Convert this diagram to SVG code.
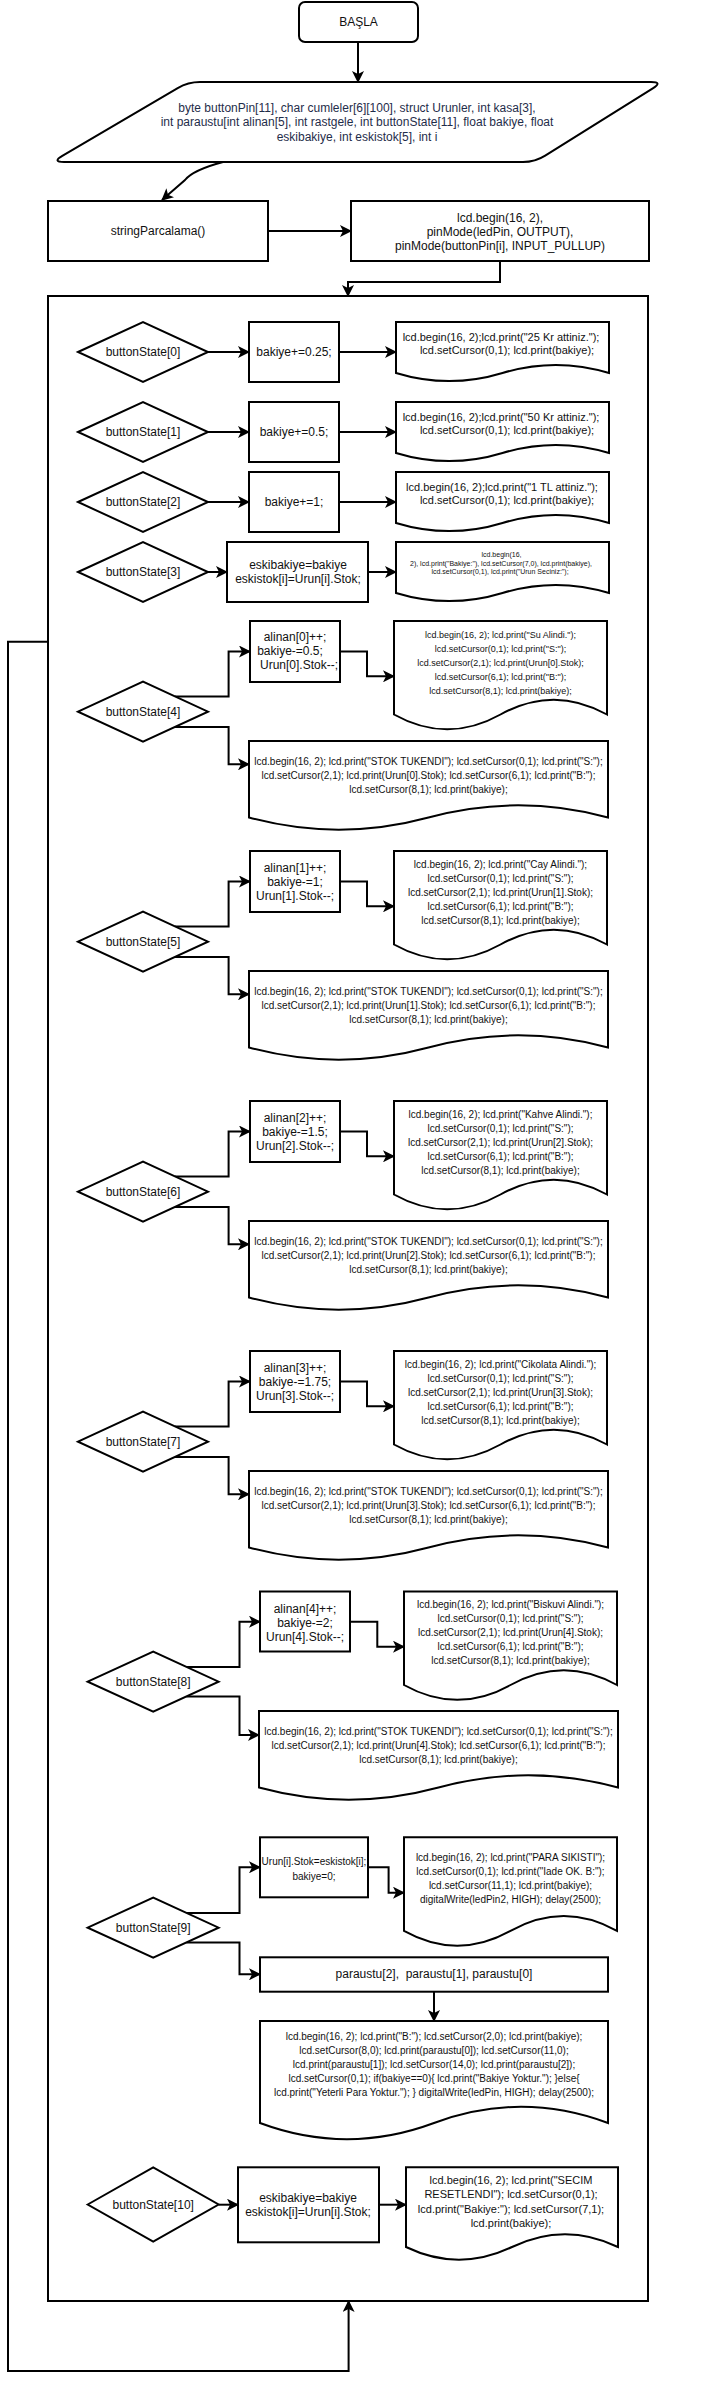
<svg xmlns="http://www.w3.org/2000/svg" width="713" height="2397" viewBox="0 0 713 2397">
<style>
.s{fill:#fff;stroke:#000;stroke-width:2}
.b{fill:none;stroke:#000;stroke-width:2}
.c{fill:none;stroke:#000;stroke-width:2;marker-end:url(#ah)}
.cn{fill:none;stroke:#000;stroke-width:2}
text{font-family:"Liberation Sans",Arial,Helvetica,sans-serif;text-anchor:middle;fill:#111}
.f12{font-size:12px}.f11{font-size:11px}.f10{font-size:10px}.f9{font-size:9px}.f7{font-size:7px}
.nv{fill:#1f2d4a}
</style>
<defs>
<marker id="ah" markerWidth="12" markerHeight="12" refX="11" refY="6" orient="auto" markerUnits="userSpaceOnUse" viewBox="0 0 12 12"><path d="M0,0 L12,6 L0,12 L3,6 Z" fill="#000"/></marker>
</defs>
<rect width="713" height="2397" fill="#fff"/>

<g id="container"><rect class="b" x="48" y="296" width="600" height="2005"/></g>

<g id="connectors">
<path class="c" d="M358,42 V82"/>
<path class="c" d="M223,162 Q193,170 185,180 L162,200"/>
<path class="c" d="M268,231 H351"/>
<path class="c" d="M500,261 V282 H348 V296"/>
<path class="c" d="M48,641.7 H8 V2371 H348.6 V2301"/>
<!-- rows 0-3 -->
<path class="c" d="M208,352 H249"/><path class="c" d="M339,352 H396"/>
<path class="c" d="M208,432 H249"/><path class="c" d="M339,432 H396"/>
<path class="c" d="M208,502 H249"/><path class="c" d="M339,502 H396"/>
<path class="c" d="M208,572 H227"/><path class="c" d="M368,572 H396"/>
<!-- row 4 -->
<path class="c" d="M175,696.5 H228.6 V651.5 H250"/>
<path class="c" d="M175,726.9 H228.6 V764.3 H249"/>
<path class="c" d="M340,651.5 H367 V676.3 H394"/>
<!-- row 5 -->
<path class="c" d="M175,926.5 H228.6 V881.5 H250"/>
<path class="c" d="M175,956.9 H228.6 V994.3 H249"/>
<path class="c" d="M340,881.5 H367 V906.3 H394"/>
<!-- row 6 -->
<path class="c" d="M175,1176.5 H228.6 V1131.5 H250"/>
<path class="c" d="M175,1206.9 H228.6 V1244.3 H249"/>
<path class="c" d="M340,1131.5 H367 V1156.3 H394"/>
<!-- row 7 -->
<path class="c" d="M175,1426.5 H228.6 V1381.5 H250"/>
<path class="c" d="M175,1456.9 H228.6 V1494.3 H249"/>
<path class="c" d="M340,1381.5 H367 V1406.3 H394"/>
<!-- row 8 -->
<path class="c" d="M186.4,1666.9 H239.5 V1621.7 H260"/>
<path class="c" d="M186.4,1696.5 H239.5 V1735 H259"/>
<path class="c" d="M350,1621.7 H377.3 V1646.7 H404"/>
<!-- row 9 -->
<path class="c" d="M186.4,1912.9 H239.5 V1867.3 H260"/>
<path class="c" d="M186.4,1942.5 H239.5 V1974.3 H260"/>
<path class="c" d="M368,1867.3 H388.6 V1892.7 H404"/>
<path class="c" d="M434,1991.7 V2021"/>
<!-- row 10 -->
<path class="c" d="M218.6,2204.7 H238"/>
<path class="c" d="M379,2204.7 H406"/>
</g>

<g id="start"><rect class="s" x="299" y="2" width="119" height="40" rx="6"/><text class="f12" x="358.5" y="26">BAŞLA</text></g>

<g id="decl">
<path class="s" d="M200,82 L651,82 Q663,82 652.8,88.4 L545.2,155.6 Q535,162 523,162 L64,162 Q52,162 62.3,155.9 L177.7,88.1 Q188,82 200,82 Z"/>
<text class="f12 nv" x="357" y="112">byte buttonPin[11], char cumleler[6][100], struct Urunler, int kasa[3],</text>
<text class="f12 nv" x="357" y="126.3">int paraustu[int alinan[5], int rastgele, int buttonState[11], float bakiye, float</text>
<text class="f12 nv" x="357" y="140.6">eskibakiye, int eskistok[5], int i</text>
</g>

<g id="stringParcalama"><rect class="s" x="48" y="201" width="220" height="60"/><text class="f12" x="158" y="235">stringParcalama()</text></g>

<g id="setup"><rect class="s" x="351" y="201" width="298" height="60"/>
<text class="f12" x="500" y="222">lcd.begin(16, 2),</text>
<text class="f12" x="500" y="236">pinMode(ledPin, OUTPUT),</text>
<text class="f12" x="500" y="250">pinMode(buttonPin[i], INPUT_PULLUP)</text></g>

<!-- row 0 -->
<g id="d0"><polygon class="s" points="78,352 143,322 208,352 143,382"/><text class="f12" x="143" y="356">buttonState[0]</text></g>
<g id="p0"><rect class="s" x="249" y="322" width="90" height="60"/><text class="f12" x="294" y="356">bakiye+=0.25;</text></g>
<g id="o0"><path class="s" d="M396,322 H609 V373 Q555.75,356.8 502.5,373 Q449.25,389.2 396,373 Z"/>
<text class="f11" x="501" y="340.5">lcd.begin(16, 2);lcd.print("25 Kr attiniz.");</text>
<text class="f11" x="507" y="354">lcd.setCursor(0,1); lcd.print(bakiye);</text></g>

<!-- row 1 -->
<g id="d1"><polygon class="s" points="78,432 143,402 208,432 143,462"/><text class="f12" x="143" y="436">buttonState[1]</text></g>
<g id="p1"><rect class="s" x="249" y="402" width="90" height="60"/><text class="f12" x="294" y="436">bakiye+=0.5;</text></g>
<g id="o1"><path class="s" d="M396,402 H609 V453 Q555.75,436.8 502.5,453 Q449.25,469.2 396,453 Z"/>
<text class="f11" x="501" y="420.5">lcd.begin(16, 2);lcd.print("50 Kr attiniz.");</text>
<text class="f11" x="507" y="434">lcd.setCursor(0,1); lcd.print(bakiye);</text></g>

<!-- row 2 -->
<g id="d2"><polygon class="s" points="78,502 143,472 208,502 143,532"/><text class="f12" x="143" y="506">buttonState[2]</text></g>
<g id="p2"><rect class="s" x="249" y="472" width="90" height="60"/><text class="f12" x="294" y="506">bakiye+=1;</text></g>
<g id="o2"><path class="s" d="M396,472 H609 V523 Q555.75,506.8 502.5,523 Q449.25,539.2 396,523 Z"/>
<text class="f11" x="502" y="490.5">lcd.begin(16, 2);lcd.print("1 TL attiniz.");</text>
<text class="f11" x="507" y="504">lcd.setCursor(0,1); lcd.print(bakiye);</text></g>

<!-- row 3 -->
<g id="d3"><polygon class="s" points="78,572 143,542 208,572 143,602"/><text class="f12" x="143" y="576">buttonState[3]</text></g>
<g id="p3"><rect class="s" x="227" y="542" width="141" height="60"/>
<text class="f12" x="298" y="569">eskibakiye=bakiye</text>
<text class="f12" x="298" y="583">eskistok[i]=Urun[i].Stok;</text></g>
<g id="o3"><path class="s" d="M396,542 H609 V593 Q555.75,576.8 502.5,593 Q449.25,609.2 396,593 Z"/>
<text class="f7" x="501.5" y="557">lcd.begin(16,</text>
<text class="f7" x="501" y="565.5">2), lcd.print("Bakiye:"), lcd.setCursor(7,0), lcd.print(bakiye),</text>
<text class="f7" x="500" y="574">lcd.setCursor(0,1), lcd.print("Urun Seciniz:");</text></g>

<!-- row 4 -->
<g id="d4"><polygon class="s" points="78,711.7 143,681.7 208,711.7 143,741.7"/><text class="f12" x="143" y="715.7">buttonState[4]</text></g>
<g id="p4"><rect class="s" x="250" y="621" width="90" height="61"/>
<text class="f12" x="295" y="641">alinan[0]++;</text>
<text class="f12" x="290" y="655">bakiye-=0.5;</text>
<text class="f12" x="299" y="669">Urun[0].Stok--;</text></g>
<g id="o4"><path class="s" d="M394,621 H607 V714.5 Q553.75,684.8 500.5,714.5 Q447.25,744.2 394,714.5 Z"/>
<text class="f9" x="500.5" y="637.5">lcd.begin(16, 2); lcd.print("Su Alindi.");</text>
<text class="f9" x="500.5" y="651.5">lcd.setCursor(0,1); lcd.print("S:");</text>
<text class="f9" x="500.5" y="665.5">lcd.setCursor(2,1); lcd.print(Urun[0].Stok);</text>
<text class="f9" x="500.5" y="679.5">lcd.setCursor(6,1); lcd.print("B:");</text>
<text class="f9" x="500.5" y="693.5">lcd.setCursor(8,1); lcd.print(bakiye);</text></g>
<g id="e4"><path class="s" d="M249,741 H608 V817.5 Q518.25,793.2 428.5,817.5 Q338.75,841.8 249,817.5 Z"/>
<text class="f10" x="428.5" y="764.5">lcd.begin(16, 2); lcd.print("STOK TUKENDI"); lcd.setCursor(0,1); lcd.print("S:");</text>
<text class="f10" x="428.5" y="778.5">lcd.setCursor(2,1); lcd.print(Urun[0].Stok); lcd.setCursor(6,1); lcd.print("B:");</text>
<text class="f10" x="428.5" y="792.5">lcd.setCursor(8,1); lcd.print(bakiye);</text></g>

<!-- row 5 -->
<g id="d5"><polygon class="s" points="78,941.7 143,911.7 208,941.7 143,971.7"/><text class="f12" x="143" y="945.7">buttonState[5]</text></g>
<g id="p5"><rect class="s" x="250" y="851" width="90" height="61"/>
<text class="f12" x="295" y="872">alinan[1]++;</text>
<text class="f12" x="295" y="886">bakiye-=1;</text>
<text class="f12" x="295" y="900">Urun[1].Stok--;</text></g>
<g id="o5"><path class="s" d="M394,851 H607 V944.5 Q553.75,914.8 500.5,944.5 Q447.25,974.2 394,944.5 Z"/>
<text class="f10" x="500.5" y="867.5">lcd.begin(16, 2); lcd.print("Cay Alindi.");</text>
<text class="f10" x="500.5" y="881.5">lcd.setCursor(0,1); lcd.print("S:");</text>
<text class="f10" x="500.5" y="895.5">lcd.setCursor(2,1); lcd.print(Urun[1].Stok);</text>
<text class="f10" x="500.5" y="909.5">lcd.setCursor(6,1); lcd.print("B:");</text>
<text class="f10" x="500.5" y="923.5">lcd.setCursor(8,1); lcd.print(bakiye);</text></g>
<g id="e5"><path class="s" d="M249,971 H608 V1047.5 Q518.25,1023.2 428.5,1047.5 Q338.75,1071.8 249,1047.5 Z"/>
<text class="f10" x="428.5" y="994.5">lcd.begin(16, 2); lcd.print("STOK TUKENDI"); lcd.setCursor(0,1); lcd.print("S:");</text>
<text class="f10" x="428.5" y="1008.5">lcd.setCursor(2,1); lcd.print(Urun[1].Stok); lcd.setCursor(6,1); lcd.print("B:");</text>
<text class="f10" x="428.5" y="1022.5">lcd.setCursor(8,1); lcd.print(bakiye);</text></g>

<!-- row 6 -->
<g id="d6"><polygon class="s" points="78,1191.7 143,1161.7 208,1191.7 143,1221.7"/><text class="f12" x="143" y="1195.7">buttonState[6]</text></g>
<g id="p6"><rect class="s" x="250" y="1101" width="90" height="61"/>
<text class="f12" x="295" y="1122">alinan[2]++;</text>
<text class="f12" x="295" y="1136">bakiye-=1.5;</text>
<text class="f12" x="295" y="1150">Urun[2].Stok--;</text></g>
<g id="o6"><path class="s" d="M394,1101 H607 V1194.5 Q553.75,1164.8 500.5,1194.5 Q447.25,1224.2 394,1194.5 Z"/>
<text class="f10" x="500.5" y="1117.5">lcd.begin(16, 2); lcd.print("Kahve Alindi.");</text>
<text class="f10" x="500.5" y="1131.5">lcd.setCursor(0,1); lcd.print("S:");</text>
<text class="f10" x="500.5" y="1145.5">lcd.setCursor(2,1); lcd.print(Urun[2].Stok);</text>
<text class="f10" x="500.5" y="1159.5">lcd.setCursor(6,1); lcd.print("B:");</text>
<text class="f10" x="500.5" y="1173.5">lcd.setCursor(8,1); lcd.print(bakiye);</text></g>
<g id="e6"><path class="s" d="M249,1221 H608 V1297.5 Q518.25,1273.2 428.5,1297.5 Q338.75,1321.8 249,1297.5 Z"/>
<text class="f10" x="428.5" y="1244.5">lcd.begin(16, 2); lcd.print("STOK TUKENDI"); lcd.setCursor(0,1); lcd.print("S:");</text>
<text class="f10" x="428.5" y="1258.5">lcd.setCursor(2,1); lcd.print(Urun[2].Stok); lcd.setCursor(6,1); lcd.print("B:");</text>
<text class="f10" x="428.5" y="1272.5">lcd.setCursor(8,1); lcd.print(bakiye);</text></g>

<!-- row 7 -->
<g id="d7"><polygon class="s" points="78,1441.7 143,1411.7 208,1441.7 143,1471.7"/><text class="f12" x="143" y="1445.7">buttonState[7]</text></g>
<g id="p7"><rect class="s" x="250" y="1351" width="90" height="61"/>
<text class="f12" x="295" y="1372">alinan[3]++;</text>
<text class="f12" x="295" y="1386">bakiye-=1.75;</text>
<text class="f12" x="295" y="1400">Urun[3].Stok--;</text></g>
<g id="o7"><path class="s" d="M394,1351 H607 V1444.5 Q553.75,1414.8 500.5,1444.5 Q447.25,1474.2 394,1444.5 Z"/>
<text class="f10" x="500.5" y="1367.5">lcd.begin(16, 2); lcd.print("Cikolata Alindi.");</text>
<text class="f10" x="500.5" y="1381.5">lcd.setCursor(0,1); lcd.print("S:");</text>
<text class="f10" x="500.5" y="1395.5">lcd.setCursor(2,1); lcd.print(Urun[3].Stok);</text>
<text class="f10" x="500.5" y="1409.5">lcd.setCursor(6,1); lcd.print("B:");</text>
<text class="f10" x="500.5" y="1423.5">lcd.setCursor(8,1); lcd.print(bakiye);</text></g>
<g id="e7"><path class="s" d="M249,1471 H608 V1547.5 Q518.25,1523.2 428.5,1547.5 Q338.75,1571.8 249,1547.5 Z"/>
<text class="f10" x="428.5" y="1494.5">lcd.begin(16, 2); lcd.print("STOK TUKENDI"); lcd.setCursor(0,1); lcd.print("S:");</text>
<text class="f10" x="428.5" y="1508.5">lcd.setCursor(2,1); lcd.print(Urun[3].Stok); lcd.setCursor(6,1); lcd.print("B:");</text>
<text class="f10" x="428.5" y="1522.5">lcd.setCursor(8,1); lcd.print(bakiye);</text></g>

<!-- row 8 -->
<g id="d8"><polygon class="s" points="87.7,1681.7 153.2,1651.7 218.6,1681.7 153.2,1711.7"/><text class="f12" x="153.2" y="1685.7">buttonState[8]</text></g>
<g id="p8"><rect class="s" x="260" y="1591.5" width="90" height="60"/>
<text class="f12" x="305" y="1612.5">alinan[4]++;</text>
<text class="f12" x="305" y="1626.5">bakiye-=2;</text>
<text class="f12" x="305" y="1640.5">Urun[4].Stok--;</text></g>
<g id="o8"><path class="s" d="M404,1591.5 H617 V1685 Q563.75,1655.3 510.5,1685 Q457.25,1714.7 404,1685 Z"/>
<text class="f10" x="510.5" y="1608">lcd.begin(16, 2); lcd.print("Biskuvi Alindi.");</text>
<text class="f10" x="510.5" y="1622">lcd.setCursor(0,1); lcd.print("S:");</text>
<text class="f10" x="510.5" y="1636">lcd.setCursor(2,1); lcd.print(Urun[4].Stok);</text>
<text class="f10" x="510.5" y="1650">lcd.setCursor(6,1); lcd.print("B:");</text>
<text class="f10" x="510.5" y="1664">lcd.setCursor(8,1); lcd.print(bakiye);</text></g>
<g id="e8"><path class="s" d="M259,1711 H618 V1787.5 Q528.25,1763.2 438.5,1787.5 Q348.75,1811.8 259,1787.5 Z"/>
<text class="f10" x="438.5" y="1734.5">lcd.begin(16, 2); lcd.print("STOK TUKENDI"); lcd.setCursor(0,1); lcd.print("S:");</text>
<text class="f10" x="438.5" y="1748.5">lcd.setCursor(2,1); lcd.print(Urun[4].Stok); lcd.setCursor(6,1); lcd.print("B:");</text>
<text class="f10" x="438.5" y="1762.5">lcd.setCursor(8,1); lcd.print(bakiye);</text></g>

<!-- row 9 -->
<g id="d9"><polygon class="s" points="87.7,1927.7 153.2,1897.7 218.6,1927.7 153.2,1957.7"/><text class="f12" x="153.2" y="1931.7">buttonState[9]</text></g>
<g id="p9"><rect class="s" x="260" y="1837.3" width="108" height="60"/>
<text class="f10" x="314" y="1865.2">Urun[i].Stok=eskistok[i];</text>
<text class="f10" x="314" y="1879.5">bakiye=0;</text></g>
<g id="o9"><path class="s" d="M404,1837.3 H617 V1930.8 Q563.75,1901.1 510.5,1930.8 Q457.25,1960.5 404,1930.8 Z"/>
<text class="f10" x="510.5" y="1860.5">lcd.begin(16, 2); lcd.print("PARA SIKISTI");</text>
<text class="f10" x="510.5" y="1874.5">lcd.setCursor(0,1); lcd.print("Iade OK. B:");</text>
<text class="f10" x="510.5" y="1888.5">lcd.setCursor(11,1); lcd.print(bakiye);</text>
<text class="f10" x="510.5" y="1902.5">digitalWrite(ledPin2, HIGH); delay(2500);</text></g>
<g id="paraustu"><rect class="s" x="260" y="1957.3" width="348" height="34.4"/>
<text class="f12" x="434" y="1978.3" xml:space="preserve">paraustu[2],  paraustu[1], paraustu[0]</text></g>
<g id="o9b"><path class="s" d="M260,2021 H608 V2123 Q521,2090.6 434,2123 Q347,2155.4 260,2123 Z"/>
<text class="f10" x="434" y="2040">lcd.begin(16, 2); lcd.print("B:"); lcd.setCursor(2,0); lcd.print(bakiye);</text>
<text class="f10" x="434" y="2054">lcd.setCursor(8,0); lcd.print(paraustu[0]); lcd.setCursor(11,0);</text>
<text class="f10" x="434" y="2068">lcd.print(paraustu[1]); lcd.setCursor(14,0); lcd.print(paraustu[2]);</text>
<text class="f10" x="434" y="2082">lcd.setCursor(0,1); if(bakiye==0){ lcd.print("Bakiye Yoktur."); }else{</text>
<text class="f10" x="434" y="2096">lcd.print("Yeterli Para Yoktur."); } digitalWrite(ledPin, HIGH); delay(2500);</text></g>

<!-- row 10 -->
<g id="d10"><polygon class="s" points="87.7,2204.5 153.2,2167.3 218.6,2204.5 153.2,2241.7"/><text class="f12" x="153.2" y="2208.5">buttonState[10]</text></g>
<g id="p10"><rect class="s" x="238" y="2167.3" width="141" height="75"/>
<text class="f12" x="308" y="2201.7">eskibakiye=bakiye</text>
<text class="f12" x="308" y="2216">eskistok[i]=Urun[i].Stok;</text></g>
<g id="o10"><path class="s" d="M406,2167.3 H618 V2247 Q565,2221.6 512,2247 Q459,2272.4 406,2247 Z"/>
<text class="f11" x="511" y="2184">lcd.begin(16, 2); lcd.print("SECIM</text>
<text class="f11" x="511" y="2198.3">RESETLENDI"); lcd.setCursor(0,1);</text>
<text class="f11" x="511" y="2212.5">lcd.print("Bakiye:"); lcd.setCursor(7,1);</text>
<text class="f11" x="511" y="2226.7">lcd.print(bakiye);</text></g>
</svg>
